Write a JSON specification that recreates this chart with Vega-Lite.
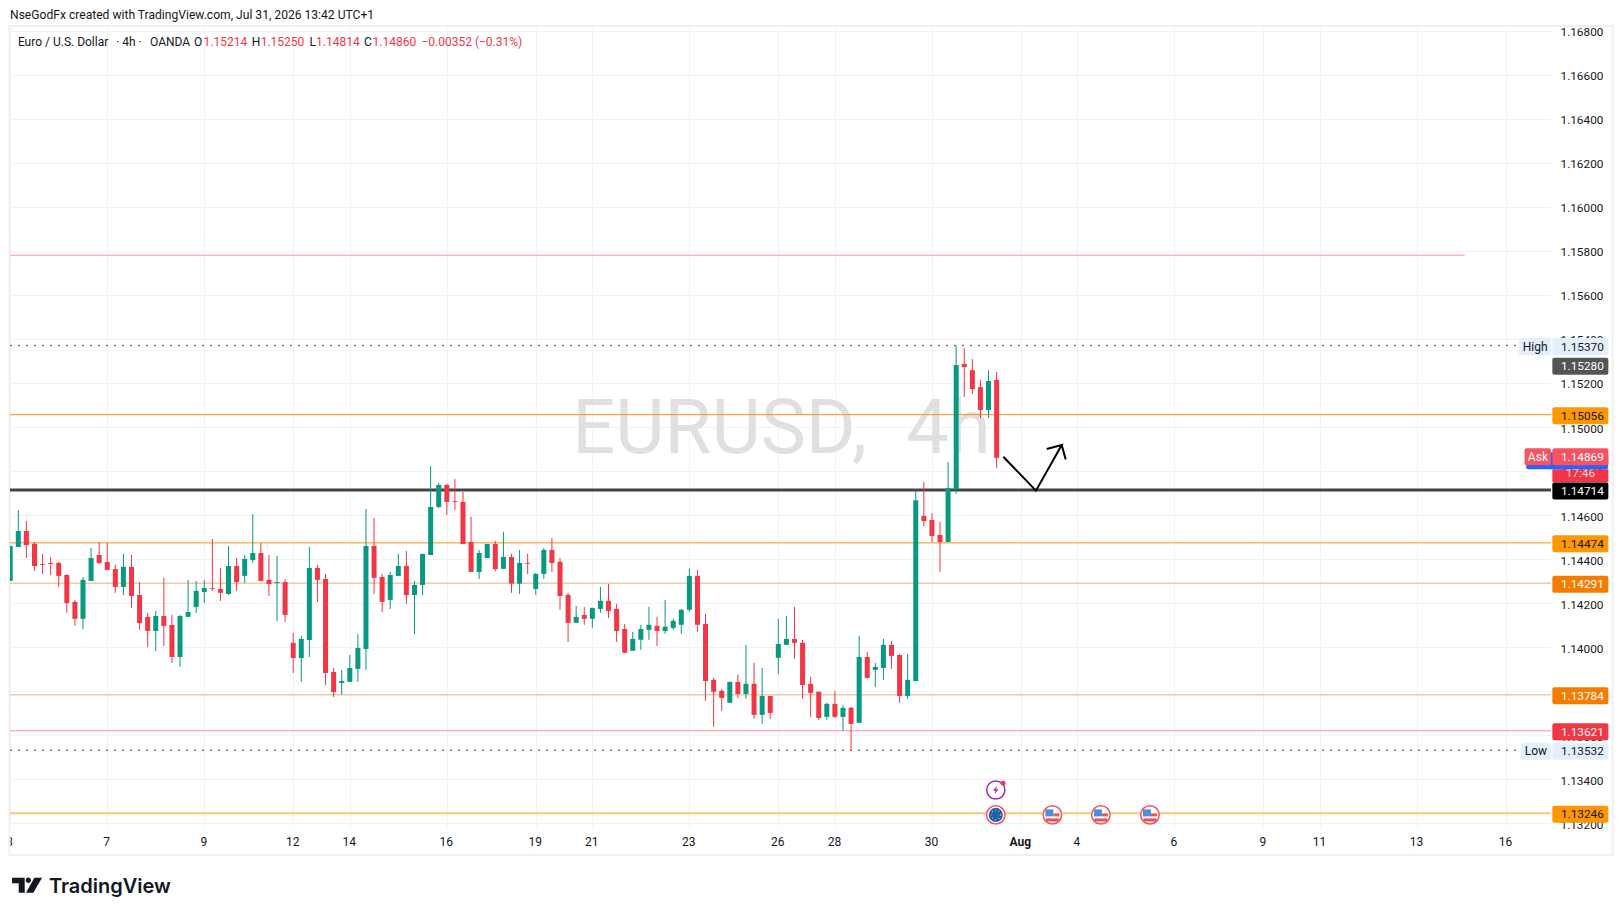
{
  "$schema": "https://vega.github.io/schema/vega-lite/v6.json",
  "width": 1541,
  "height": 800,
  "autosize": "none",
  "padding": {"left": 10, "top": 27, "right": 72, "bottom": 89},
  "background": "#ffffff",
  "view": {"stroke": null},
  "title": {
    "text": "NseGodFx created with TradingView.com, Jul 31, 2026 13:42 UTC+1",
    "anchor": "start",
    "frame": "group",
    "offset": 4,
    "font": "Roboto",
    "fontSize": 12.1,
    "fontWeight": "normal",
    "color": "#131722"
  },
  "datasets": {
    "candles": [
      {"bar":-1,"open":1.14301,"high":1.14460,"low":1.14301,"close":1.14460},
      {"bar":0,"open":1.14455,"high":1.14623,"low":1.14455,"close":1.14528},
      {"bar":1,"open":1.14528,"high":1.14573,"low":1.14405,"close":1.14464},
      {"bar":2,"open":1.14470,"high":1.14478,"low":1.14346,"close":1.14369},
      {"bar":3,"open":1.14378,"high":1.14424,"low":1.14333,"close":1.14374},
      {"bar":4,"open":1.14383,"high":1.14410,"low":1.14328,"close":1.14378},
      {"bar":5,"open":1.14383,"high":1.14387,"low":1.14274,"close":1.14324},
      {"bar":6,"open":1.14328,"high":1.14333,"low":1.14156,"close":1.14201},
      {"bar":7,"open":1.14206,"high":1.14215,"low":1.14097,"close":1.14129},
      {"bar":8,"open":1.14129,"high":1.14319,"low":1.14083,"close":1.14306},
      {"bar":9,"open":1.14301,"high":1.14451,"low":1.14301,"close":1.14405},
      {"bar":10,"open":1.14419,"high":1.14478,"low":1.14378,"close":1.14383},
      {"bar":11,"open":1.14387,"high":1.14473,"low":1.14351,"close":1.14351},
      {"bar":12,"open":1.14355,"high":1.14374,"low":1.14247,"close":1.14274},
      {"bar":13,"open":1.14274,"high":1.14424,"low":1.14237,"close":1.14365},
      {"bar":14,"open":1.14365,"high":1.14419,"low":1.14178,"close":1.14233},
      {"bar":15,"open":1.14237,"high":1.14296,"low":1.14079,"close":1.14110},
      {"bar":16,"open":1.14138,"high":1.14156,"low":1.14001,"close":1.14074},
      {"bar":17,"open":1.14074,"high":1.14165,"low":1.13983,"close":1.14142},
      {"bar":18,"open":1.14142,"high":1.14315,"low":1.14006,"close":1.14097},
      {"bar":19,"open":1.14101,"high":1.14147,"low":1.13929,"close":1.13956},
      {"bar":20,"open":1.13956,"high":1.14147,"low":1.13911,"close":1.14142},
      {"bar":21,"open":1.14138,"high":1.14306,"low":1.14138,"close":1.14160},
      {"bar":22,"open":1.14183,"high":1.14301,"low":1.14156,"close":1.14256},
      {"bar":23,"open":1.14251,"high":1.14306,"low":1.14201,"close":1.14269},
      {"bar":24,"open":1.14269,"high":1.14492,"low":1.14256,"close":1.14265},
      {"bar":25,"open":1.14265,"high":1.14360,"low":1.14210,"close":1.14247},
      {"bar":26,"open":1.14242,"high":1.14460,"low":1.14237,"close":1.14369},
      {"bar":27,"open":1.14369,"high":1.14405,"low":1.14256,"close":1.14296},
      {"bar":28,"open":1.14324,"high":1.14419,"low":1.14292,"close":1.14401},
      {"bar":29,"open":1.14396,"high":1.14605,"low":1.14383,"close":1.14428},
      {"bar":30,"open":1.14428,"high":1.14473,"low":1.14301,"close":1.14301},
      {"bar":31,"open":1.14306,"high":1.14419,"low":1.14233,"close":1.14287},
      {"bar":32,"open":1.14292,"high":1.14414,"low":1.14119,"close":1.14296},
      {"bar":33,"open":1.14296,"high":1.14310,"low":1.14115,"close":1.14147},
      {"bar":34,"open":1.14020,"high":1.14065,"low":1.13883,"close":1.13951},
      {"bar":35,"open":1.13951,"high":1.14051,"low":1.13843,"close":1.14038},
      {"bar":36,"open":1.14033,"high":1.14455,"low":1.13956,"close":1.14360},
      {"bar":37,"open":1.14360,"high":1.14374,"low":1.14206,"close":1.14306},
      {"bar":38,"open":1.14310,"high":1.14333,"low":1.13829,"close":1.13883},
      {"bar":39,"open":1.13888,"high":1.13906,"low":1.13774,"close":1.13797},
      {"bar":40,"open":1.13838,"high":1.13897,"low":1.13784,"close":1.13847},
      {"bar":41,"open":1.13843,"high":1.13965,"low":1.13843,"close":1.13906},
      {"bar":42,"open":1.13902,"high":1.14060,"low":1.13843,"close":1.13997},
      {"bar":43,"open":1.13992,"high":1.14628,"low":1.13897,"close":1.14460},
      {"bar":44,"open":1.14460,"high":1.14587,"low":1.14242,"close":1.14315},
      {"bar":45,"open":1.14319,"high":1.14333,"low":1.14160,"close":1.14206},
      {"bar":46,"open":1.14215,"high":1.14342,"low":1.14174,"close":1.14328},
      {"bar":47,"open":1.14324,"high":1.14424,"low":1.14324,"close":1.14369},
      {"bar":48,"open":1.14369,"high":1.14437,"low":1.14197,"close":1.14237},
      {"bar":49,"open":1.14237,"high":1.14301,"low":1.14060,"close":1.14283},
      {"bar":50,"open":1.14283,"high":1.14424,"low":1.14237,"close":1.14424},
      {"bar":51,"open":1.14419,"high":1.14823,"low":1.14419,"close":1.14637},
      {"bar":52,"open":1.14637,"high":1.14746,"low":1.14632,"close":1.14737},
      {"bar":53,"open":1.14737,"high":1.14741,"low":1.14601,"close":1.14660},
      {"bar":54,"open":1.14664,"high":1.14764,"low":1.14623,"close":1.14660},
      {"bar":55,"open":1.14660,"high":1.14705,"low":1.14469,"close":1.14469},
      {"bar":56,"open":1.14478,"high":1.14592,"low":1.14342,"close":1.14342},
      {"bar":57,"open":1.14342,"high":1.14442,"low":1.14310,"close":1.14428},
      {"bar":58,"open":1.14405,"high":1.14469,"low":1.14405,"close":1.14469},
      {"bar":59,"open":1.14469,"high":1.14483,"low":1.14346,"close":1.14355},
      {"bar":60,"open":1.14356,"high":1.14524,"low":1.14356,"close":1.14410},
      {"bar":61,"open":1.14410,"high":1.14424,"low":1.14247,"close":1.14289},
      {"bar":62,"open":1.14289,"high":1.14442,"low":1.14242,"close":1.14383},
      {"bar":63,"open":1.14383,"high":1.14424,"low":1.14333,"close":1.14379},
      {"bar":64,"open":1.14265,"high":1.14338,"low":1.14238,"close":1.14333},
      {"bar":65,"open":1.14333,"high":1.14451,"low":1.14310,"close":1.14442},
      {"bar":66,"open":1.14442,"high":1.14497,"low":1.14342,"close":1.14383},
      {"bar":67,"open":1.14388,"high":1.14406,"low":1.14170,"close":1.14233},
      {"bar":68,"open":1.14238,"high":1.14247,"low":1.14024,"close":1.14111},
      {"bar":69,"open":1.14111,"high":1.14188,"low":1.14111,"close":1.14138},
      {"bar":70,"open":1.14147,"high":1.14183,"low":1.14102,"close":1.14129},
      {"bar":71,"open":1.14129,"high":1.14179,"low":1.14088,"close":1.14179},
      {"bar":72,"open":1.14174,"high":1.14274,"low":1.14156,"close":1.14211},
      {"bar":73,"open":1.14211,"high":1.14288,"low":1.14133,"close":1.14165},
      {"bar":74,"open":1.14174,"high":1.14197,"low":1.14024,"close":1.14074},
      {"bar":75,"open":1.14083,"high":1.14106,"low":1.13975,"close":1.13975},
      {"bar":76,"open":1.13984,"high":1.14070,"low":1.13984,"close":1.14038},
      {"bar":77,"open":1.14034,"high":1.14102,"low":1.13988,"close":1.14083},
      {"bar":78,"open":1.14079,"high":1.14183,"low":1.14034,"close":1.14102},
      {"bar":79,"open":1.14097,"high":1.14138,"low":1.14006,"close":1.14074},
      {"bar":80,"open":1.14074,"high":1.14215,"low":1.14061,"close":1.14093},
      {"bar":81,"open":1.14088,"high":1.14129,"low":1.14079,"close":1.14120},
      {"bar":82,"open":1.14102,"high":1.14174,"low":1.14061,"close":1.14170},
      {"bar":83,"open":1.14170,"high":1.14356,"low":1.14161,"close":1.14324},
      {"bar":84,"open":1.14324,"high":1.14351,"low":1.14070,"close":1.14102},
      {"bar":85,"open":1.14106,"high":1.14152,"low":1.13757,"close":1.13847},
      {"bar":86,"open":1.13852,"high":1.13861,"low":1.13639,"close":1.13798},
      {"bar":87,"open":1.13802,"high":1.13811,"low":1.13711,"close":1.13770},
      {"bar":88,"open":1.13748,"high":1.13843,"low":1.13748,"close":1.13843},
      {"bar":89,"open":1.13843,"high":1.13875,"low":1.13770,"close":1.13788},
      {"bar":90,"open":1.13788,"high":1.14011,"low":1.13766,"close":1.13834},
      {"bar":91,"open":1.13834,"high":1.13929,"low":1.13675,"close":1.13693},
      {"bar":92,"open":1.13693,"high":1.13906,"low":1.13652,"close":1.13779},
      {"bar":93,"open":1.13779,"high":1.13779,"low":1.13675,"close":1.13702},
      {"bar":94,"open":1.13952,"high":1.14129,"low":1.13879,"close":1.14015},
      {"bar":95,"open":1.14011,"high":1.14142,"low":1.14011,"close":1.14038},
      {"bar":96,"open":1.14038,"high":1.14183,"low":1.13947,"close":1.14020},
      {"bar":97,"open":1.14020,"high":1.14034,"low":1.13766,"close":1.13829},
      {"bar":98,"open":1.13834,"high":1.13866,"low":1.13684,"close":1.13793},
      {"bar":99,"open":1.13798,"high":1.13798,"low":1.13670,"close":1.13679},
      {"bar":100,"open":1.13684,"high":1.13748,"low":1.13670,"close":1.13743},
      {"bar":101,"open":1.13743,"high":1.13802,"low":1.13679,"close":1.13684},
      {"bar":102,"open":1.13684,"high":1.13739,"low":1.13620,"close":1.13725},
      {"bar":103,"open":1.13725,"high":1.13729,"low":1.13532,"close":1.13652},
      {"bar":104,"open":1.13657,"high":1.14052,"low":1.13657,"close":1.13956},
      {"bar":105,"open":1.13956,"high":1.13979,"low":1.13857,"close":1.13861},
      {"bar":106,"open":1.13897,"high":1.13929,"low":1.13820,"close":1.13911},
      {"bar":107,"open":1.13906,"high":1.14038,"low":1.13852,"close":1.14011},
      {"bar":108,"open":1.14011,"high":1.14029,"low":1.13902,"close":1.13961},
      {"bar":109,"open":1.13965,"high":1.13970,"low":1.13748,"close":1.13779},
      {"bar":110,"open":1.13779,"high":1.13970,"low":1.13766,"close":1.13852},
      {"bar":111,"open":1.13847,"high":1.14709,"low":1.13847,"close":1.14668},
      {"bar":112,"open":1.14596,"high":1.14750,"low":1.14550,"close":1.14573},
      {"bar":113,"open":1.14578,"high":1.14609,"low":1.14478,"close":1.14505},
      {"bar":114,"open":1.14510,"high":1.14569,"low":1.14342,"close":1.14478},
      {"bar":115,"open":1.14478,"high":1.14841,"low":1.14478,"close":1.14723},
      {"bar":116,"open":1.14718,"high":1.15370,"low":1.14696,"close":1.15281},
      {"bar":117,"open":1.15286,"high":1.15358,"low":1.15136,"close":1.15272},
      {"bar":118,"open":1.15258,"high":1.15308,"low":1.15150,"close":1.15172},
      {"bar":119,"open":1.15181,"high":1.15213,"low":1.15041,"close":1.15077},
      {"bar":120,"open":1.15077,"high":1.15258,"low":1.15041,"close":1.15209},
      {"bar":121,"open":1.15214,"high":1.15250,"low":1.14814,"close":1.14860}
    ],
    "levels": [
      {"price":1.1578,"style":"pink","from":-1.027,"to":178.9},
      {"price":1.15056,"style":"orange","from":-1.027,"to":189.57},
      {"price":1.14474,"style":"orange","from":-1.027,"to":189.57},
      {"price":1.14291,"style":"peach","from":-1.027,"to":189.57},
      {"price":1.13784,"style":"peach","from":-1.027,"to":189.57},
      {"price":1.13621,"style":"pink","from":-1.027,"to":189.57}
    ],
    "extremes": [
      {"price":1.1537,"from":-1.027,"to":185.6},
      {"price":1.13532,"from":-1.027,"to":185.85}
    ],
    "badges": [
      {"price":1.1537,"label":"1.15370","kind":"extreme","at":193.2,"textAt":190.8},
      {"price":1.1528,"label":"1.15280","kind":"last","at":193.2,"textAt":190.8},
      {"price":1.15056,"label":"1.15056","kind":"amber","at":193.2,"textAt":190.8},
      {"price":1.14869,"label":"1.14869","kind":"ask","at":193.2,"textAt":190.8},
      {"price":1.14714,"label":"1.14714","kind":"black","at":193.2,"textAt":190.8},
      {"price":1.14474,"label":"1.14474","kind":"amber","at":193.2,"textAt":190.8},
      {"price":1.14291,"label":"1.14291","kind":"deep","at":193.2,"textAt":190.8},
      {"price":1.13784,"label":"1.13784","kind":"deep","at":193.2,"textAt":190.8},
      {"price":1.13621,"label":"1.13621","kind":"red","at":193.2,"textAt":190.8},
      {"price":1.13532,"label":"1.13532","kind":"extreme","at":193.2,"textAt":190.8},
      {"price":1.13246,"label":"1.13246","kind":"amber","at":193.2,"textAt":190.8}
    ],
    "tags": [
      {"price":1.1537,"label":"High","kind":"extreme","from":185.6,"to":189.57,"mid":187.6},
      {"price":1.14869,"label":"Ask","kind":"ask","from":186.3,"to":189.57,"mid":187.95},
      {"price":1.13532,"label":"Low","kind":"extreme","from":185.85,"to":189.57,"mid":187.7}
    ],
    "legend": [
      {"bar":-0.05,"price":1.16748,"text":"Euro / U.S. Dollar","part":"name"},
      {"bar":12.1,"price":1.16748,"text":"· 4h ·","part":"name"},
      {"bar":16.3,"price":1.16748,"text":"OANDA","part":"name"},
      {"bar":21.73,"price":1.16748,"text":"O","part":"name"},
      {"bar":22.92,"price":1.16748,"text":"1.15214","part":"value"},
      {"bar":28.88,"price":1.16748,"text":"H","part":"name"},
      {"bar":29.98,"price":1.16748,"text":"1.15250","part":"value"},
      {"bar":36.03,"price":1.16748,"text":"L","part":"name"},
      {"bar":36.82,"price":1.16748,"text":"1.14814","part":"value"},
      {"bar":42.76,"price":1.16748,"text":"C","part":"name"},
      {"bar":43.81,"price":1.16748,"text":"1.14860","part":"value"},
      {"bar":49.86,"price":1.16748,"text":"−0.00352 (−0.31%)","part":"value"}
    ],
    "watermark": [
      {"bar":68.5,"price":1.14987,"text":"EURUSD,"},
      {"bar":109.8,"price":1.14987,"text":"4h"}
    ],
    "arrow": [
      {"seq":1,"bar":121.83,"price":1.14865},
      {"seq":2,"bar":125.87,"price":1.14711},
      {"seq":3,"bar":129.05,"price":1.14918},
      {"seq":4,"bar":127.2,"price":1.149},
      {"seq":5,"bar":129.05,"price":1.14918},
      {"seq":6,"bar":129.55,"price":1.14853}
    ],
    "events": [
      {"bar":120.9,"price":1.13239,"country":"EU"},
      {"bar":127.9,"price":1.13239,"country":"US"},
      {"bar":133.9,"price":1.13239,"country":"US"},
      {"bar":139.97,"price":1.13239,"country":"US"}
    ]
  },
  "layer": [
    {
      "data": {"values": [{"left": -3.2, "right": -1.027, "bottom": 1.13057, "top": 1.13184}]},
      "mark": {"type": "rect", "fill": "#ffffff", "clip": false},
      "encoding": {
        "x": {
          "field": "left",
          "type": "quantitative",
          "title": null,
          "scale": {"domain": [-1.027, 189.57], "nice": false, "zero": false, "padding": 0},
          "axis": {
            "orient": "bottom",
            "values": [-1, 11, 23, 34, 41, 53, 64, 71, 83, 94, 101, 113, 124, 131, 143, 154, 161, 173, 184],
            "labelExpr": "{'-1':'3','11':'7','23':'9','34':'12','41':'14','53':'16','64':'19','71':'21','83':'23','94':'26','101':'28','113':'30','124':'Aug','131':'4','143':'6','154':'9','161':'11','173':'13','184':'16'}[datum.value]",
            "labelFont": "Roboto",
            "labelFontSize": 12,
            "labelColor": "#131722",
            "labelFontWeight": {"condition": {"test": "datum.value == 124", "value": "bold"}, "value": "normal"},
            "labelPadding": 9,
            "labelOffset": -1,
            "labelOverlap": false,
            "labelBound": false,
            "labelFlush": false,
            "ticks": false,
            "domain": false,
            "grid": true,
            "gridColor": "#f1f2f4",
            "gridWidth": 1
          }
        },
        "x2": {"field": "right"},
        "y": {
          "field": "bottom",
          "type": "quantitative",
          "title": null,
          "scale": {"domain": [1.13184, 1.16816], "nice": false, "zero": false},
          "axis": {
            "orient": "right",
            "values": [1.132, 1.134, 1.136, 1.138, 1.14, 1.142, 1.144, 1.146, 1.148, 1.15, 1.152, 1.154, 1.156, 1.158, 1.16, 1.162, 1.164, 1.166, 1.168],
            "format": ".5f",
            "labelFont": "Roboto",
            "labelFontSize": 11.8,
            "labelColor": "#131722",
            "labelAlign": "left",
            "labelPadding": 9,
            "labelOffset": 1,
            "labelOverlap": false,
            "labelBound": false,
            "labelFlush": false,
            "ticks": false,
            "domain": false,
            "grid": true,
            "gridColor": "#f1f2f4",
            "gridWidth": 1
          }
        },
        "y2": {"field": "top"}
      }
    },
    {
      "data": {"values": [{"left": -1.1, "right": 197.2, "bottom": 1.13057, "top": 1.1682}]},
      "mark": {"type": "rect", "filled": false, "stroke": "#f0f0f0", "strokeWidth": 2, "clip": false},
      "encoding": {
        "x": {"field": "left", "type": "quantitative"},
        "x2": {"field": "right"},
        "y": {"field": "bottom", "type": "quantitative"},
        "y2": {"field": "top"}
      }
    },
    {
      "data": {"name": "watermark"},
      "mark": {"type": "text", "font": "Roboto", "fontSize": 76, "color": "#e0e0e0", "align": "left", "baseline": "middle"},
      "encoding": {"x": {"field": "bar", "type": "quantitative"}, "y": {"field": "price", "type": "quantitative"}, "text": {"field": "text"}}
    },
    {
      "data": {"name": "levels"},
      "mark": {"type": "rule", "strokeWidth": 1},
      "encoding": {
        "x": {"field": "from", "type": "quantitative"},
        "x2": {"field": "to"},
        "y": {"field": "price", "type": "quantitative"},
        "color": {
          "field": "style",
          "type": "nominal",
          "scale": {"domain": ["pink", "orange", "peach"], "range": ["#f5929f", "#f7931a", "#f2ae72"]},
          "legend": null
        }
      }
    },
    {
      "data": {"name": "extremes"},
      "mark": {"type": "rule", "strokeWidth": 1.5, "strokeDash": [2, 6], "color": "#787b86"},
      "encoding": {"x": {"field": "from", "type": "quantitative"}, "x2": {"field": "to"}, "y": {"field": "price", "type": "quantitative"}}
    },
    {
      "data": {"values": [{"price": 1.13246, "from": -1.027, "to": 189.57}]},
      "mark": {"type": "rule", "strokeWidth": 2, "color": "#ffc675"},
      "encoding": {"x": {"field": "from", "type": "quantitative"}, "x2": {"field": "to"}, "y": {"field": "price", "type": "quantitative"}}
    },
    {
      "data": {"values": [{"price": 1.14714, "from": -1.027, "to": 189.57}]},
      "mark": {"type": "rule", "strokeWidth": 3, "color": "#434343"},
      "encoding": {"x": {"field": "from", "type": "quantitative"}, "x2": {"field": "to"}, "y": {"field": "price", "type": "quantitative"}}
    },
    {
      "data": {"name": "candles"},
      "mark": {"type": "rule", "strokeWidth": 1, "clip": true},
      "encoding": {
        "x": {"field": "bar", "type": "quantitative"},
        "y": {"field": "low", "type": "quantitative"},
        "y2": {"field": "high"},
        "color": {"condition": {"test": "datum.close >= datum.open", "value": "#089981"}, "value": "#f23645"}
      }
    },
    {
      "data": {"name": "candles"},
      "mark": {"type": "bar", "size": 5, "orient": "vertical", "clip": true},
      "encoding": {
        "x": {"field": "bar", "type": "quantitative"},
        "y": {"field": "open", "type": "quantitative"},
        "y2": {"field": "close"},
        "color": {"condition": {"test": "datum.close >= datum.open", "value": "#089981"}, "value": "#f23645"}
      }
    },
    {
      "data": {"name": "arrow"},
      "mark": {"type": "line", "color": "#000000", "strokeWidth": 2},
      "encoding": {"x": {"field": "bar", "type": "quantitative"}, "y": {"field": "price", "type": "quantitative"}, "order": {"field": "seq", "type": "quantitative"}}
    },
    {
      "data": {"values": [{"price": 1.14783, "at": 193.2}]},
      "mark": {"type": "rect", "width": 56, "height": 13, "color": "#f23645", "yOffset": 1},
      "encoding": {"x": {"field": "at", "type": "quantitative"}, "y": {"field": "price", "type": "quantitative"}}
    },
    {
      "data": {"values": [{"price": 1.14795, "label": "17:46", "at": 193.2}]},
      "mark": {"type": "text", "font": "Roboto", "fontSize": 11.8, "color": "#fbd5d8", "align": "center", "baseline": "middle", "yOffset": 1},
      "encoding": {"x": {"field": "at", "type": "quantitative"}, "y": {"field": "price", "type": "quantitative"}, "text": {"field": "label"}}
    },
    {
      "data": {"values": [{"price": 1.14851, "at": 191.57}]},
      "mark": {"type": "rect", "width": 82, "height": 17, "color": "#2962ff", "cornerRadius": 2, "yOffset": 1},
      "encoding": {"x": {"field": "at", "type": "quantitative"}, "y": {"field": "price", "type": "quantitative"}}
    },
    {
      "data": {"name": "tags"},
      "mark": {"type": "rect", "height": 17, "cornerRadius": 2, "yOffset": 1},
      "encoding": {
        "x": {"field": "from", "type": "quantitative"},
        "x2": {"field": "to"},
        "y": {"field": "price", "type": "quantitative"},
        "fill": {
          "field": "kind",
          "type": "nominal",
          "scale": {"domain": ["extreme", "ask"], "range": ["#e3effd", "#f7525f"]},
          "legend": null
        }
      }
    },
    {
      "data": {"name": "tags"},
      "mark": {"type": "text", "font": "Roboto", "fontSize": 12, "align": "center", "baseline": "middle", "yOffset": 1},
      "encoding": {
        "x": {"field": "mid", "type": "quantitative"},
        "y": {"field": "price", "type": "quantitative"},
        "text": {"field": "label"},
        "color": {"condition": {"test": "datum.kind == 'ask'", "value": "#ffffff"}, "value": "#131722"}
      }
    },
    {
      "data": {"name": "badges"},
      "mark": {"type": "rect", "width": 56, "height": 17, "cornerRadius": 2, "yOffset": 1},
      "encoding": {
        "x": {"field": "at", "type": "quantitative"},
        "y": {"field": "price", "type": "quantitative"},
        "fill": {
          "field": "kind",
          "type": "nominal",
          "scale": {
            "domain": ["extreme", "last", "amber", "ask", "black", "deep", "red"],
            "range": ["#e3effd", "#555555", "#ff9800", "#f7525f", "#000000", "#f57c00", "#f23645"]
          },
          "legend": null
        }
      }
    },
    {
      "data": {"name": "badges"},
      "mark": {"type": "text", "font": "Roboto", "fontSize": 11.8, "align": "left", "baseline": "middle", "yOffset": 1},
      "encoding": {
        "x": {"field": "textAt", "type": "quantitative"},
        "y": {"field": "price", "type": "quantitative"},
        "text": {"field": "label"},
        "color": {
          "condition": {"test": "datum.kind == 'extreme' || datum.kind == 'amber'", "value": "#131722"},
          "value": "#ffffff"
        }
      }
    },
    {
      "data": {"name": "legend"},
      "mark": {"type": "text", "font": "Roboto", "fontSize": 12, "align": "left", "baseline": "middle"},
      "encoding": {
        "x": {"field": "bar", "type": "quantitative"},
        "y": {"field": "price", "type": "quantitative"},
        "text": {"field": "text"},
        "color": {"condition": {"test": "datum.part == 'value'", "value": "#f23645"}, "value": "#131722"}
      }
    },
    {
      "data": {"name": "events"},
      "mark": {"type": "circle", "size": 340, "fill": "#ffffff", "stroke": "#f7525f", "strokeWidth": 1.5, "opacity": 1},
      "encoding": {"x": {"field": "bar", "type": "quantitative"}, "y": {"field": "price", "type": "quantitative"}}
    },
    {
      "data": {"name": "events"},
      "transform": [{"filter": "datum.country == 'EU'"}],
      "mark": {"type": "circle", "size": 200, "color": "#1b62b5", "opacity": 1},
      "encoding": {"x": {"field": "bar", "type": "quantitative"}, "y": {"field": "price", "type": "quantitative"}}
    },
    {
      "data": {"name": "events"},
      "transform": [{"filter": "datum.country == 'EU'"}],
      "mark": {"type": "point", "shape": "circle", "size": 90, "filled": false, "stroke": "#f2c230", "strokeWidth": 1.2, "strokeDash": [1, 2.5], "opacity": 1},
      "encoding": {"x": {"field": "bar", "type": "quantitative"}, "y": {"field": "price", "type": "quantitative"}}
    },
    {
      "data": {"name": "events"},
      "transform": [{"filter": "datum.country == 'US'"}],
      "mark": {"type": "rect", "width": 13, "height": 3, "color": "#ef5350", "yOffset": 5},
      "encoding": {"x": {"field": "bar", "type": "quantitative"}, "y": {"field": "price", "type": "quantitative"}}
    },
    {
      "data": {"name": "events"},
      "transform": [{"filter": "datum.country == 'US'"}],
      "mark": {"type": "rect", "width": 6, "height": 3, "color": "#ef5350", "xOffset": 4},
      "encoding": {"x": {"field": "bar", "type": "quantitative"}, "y": {"field": "price", "type": "quantitative"}}
    },
    {
      "data": {"name": "events"},
      "transform": [{"filter": "datum.country == 'US'"}],
      "mark": {"type": "rect", "width": 8, "height": 7, "color": "#4a90d9", "xOffset": -3, "yOffset": -2},
      "encoding": {"x": {"field": "bar", "type": "quantitative"}, "y": {"field": "price", "type": "quantitative"}}
    },
    {
      "data": {"values": [{"bar": 120.9, "price": 1.13352}]},
      "mark": {"type": "point", "shape": "circle", "size": 330, "filled": false, "stroke": "#9c27b0", "strokeWidth": 1.5, "opacity": 1},
      "encoding": {"x": {"field": "bar", "type": "quantitative"}, "y": {"field": "price", "type": "quantitative"}}
    },
    {
      "data": {"values": [{"bar": 120.9, "price": 1.13352}]},
      "mark": {
        "type": "point",
        "shape": "M0.25,-0.85 L-0.55,0.15 L-0.05,0.15 L-0.25,0.85 L0.55,-0.15 L0.05,-0.15 Z",
        "size": 100,
        "filled": true,
        "color": "#9c27b0",
        "opacity": 1
      },
      "encoding": {"x": {"field": "bar", "type": "quantitative"}, "y": {"field": "price", "type": "quantitative"}}
    },
    {
      "data": {"values": [{"bar": 121.8, "price": 1.13383}]},
      "mark": {"type": "circle", "size": 24, "color": "#f23645", "opacity": 1},
      "encoding": {"x": {"field": "bar", "type": "quantitative"}, "y": {"field": "price", "type": "quantitative"}}
    },
    {
      "data": {"values": [{"bar": 1.08, "price": 1.12919}]},
      "mark": {
        "type": "point",
        "shape": "M-1,-0.5 L-0.156,-0.5 L-0.156,0.5 L-0.556,0.5 L-0.556,-0.144 L-1,-0.144 Z M-0.089,-0.344 a0.178,0.178 0 1,0 0.356,0 a0.178,0.178 0 1,0 -0.356,0 Z M0.489,-0.5 L1,-0.5 L0.42,0.5 L-0.067,0.5 Z",
        "size": 900,
        "filled": true,
        "color": "#131722",
        "opacity": 1
      },
      "encoding": {"x": {"field": "bar", "type": "quantitative"}, "y": {"field": "price", "type": "quantitative"}}
    },
    {
      "data": {"values": [{"bar": 3.8, "price": 1.12912, "text": "TradingView"}]},
      "mark": {"type": "text", "font": "Inter", "fontWeight": 600, "fontSize": 20, "color": "#131722", "align": "left", "baseline": "middle"},
      "encoding": {"x": {"field": "bar", "type": "quantitative"}, "y": {"field": "price", "type": "quantitative"}, "text": {"field": "text"}}
    }
  ],
  "resolve": {"scale": {"color": "independent", "fill": "independent"}}
}
